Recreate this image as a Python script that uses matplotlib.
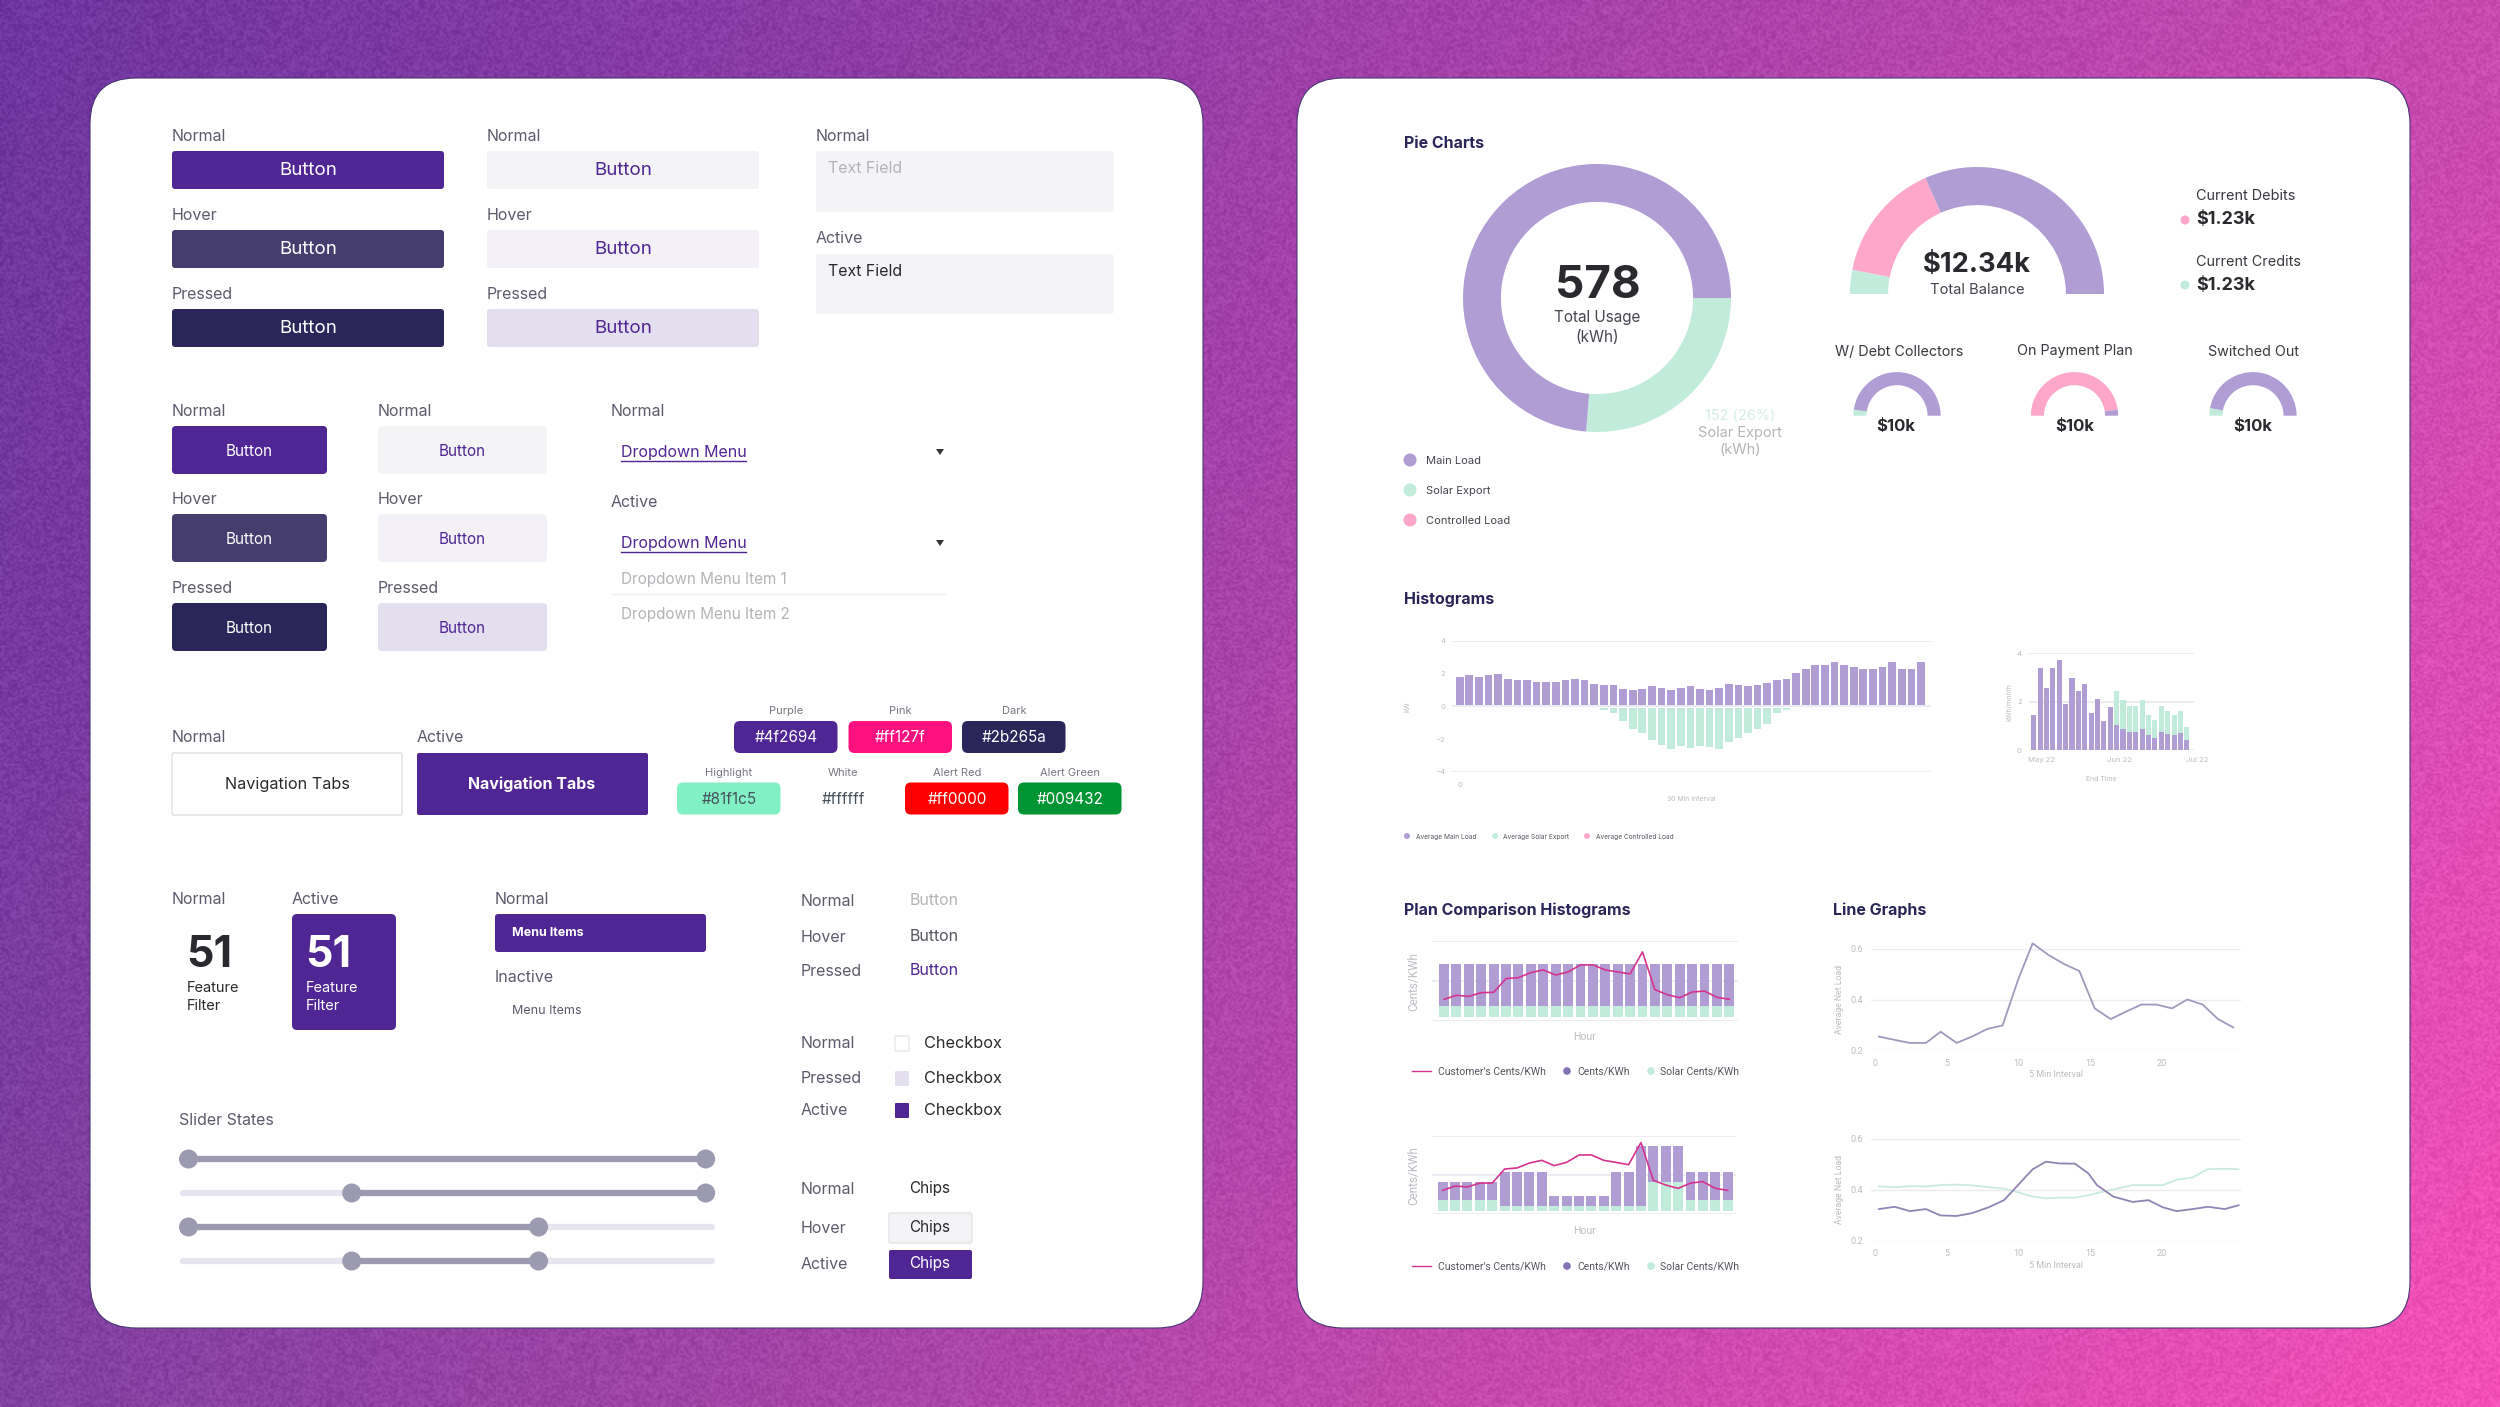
import numpy as np
import matplotlib
matplotlib.use('Agg')
from matplotlib import pyplot as plt
from matplotlib.patches import FancyBboxPatch, Circle, Polygon

# chart values ---------------------------------------------------------
usage_vals = [152, 426]                 # solar export, main load (kWh)
balance_vals = [11, 55, 114]            # credits, debits, rest, as degrees of the half ring
mini_debt = [8, 172]
mini_plan = [172, 8]
mini_out = [10, 170]

hist_load = [1.75, 1.88, 1.75, 1.86, 1.94, 1.63, 1.53, 1.53, 1.45, 1.41, 1.45, 1.53, 1.59, 1.53, 1.33, 1.22, 1.22,
             0.98, 0.92, 0.98, 1.16, 1.06, 0.92, 1.06, 1.16, 0.98, 0.92, 1.06, 1.33, 1.22, 1.16, 1.22, 1.39, 1.57,
             1.63, 2.0, 2.22, 2.45, 2.45, 2.63, 2.45, 2.35, 2.22, 2.22, 2.35, 2.63, 2.22, 2.22, 2.63]
hist_solar = [0] * 15 + [-0.14, -0.35, -0.82, -1.31, -1.53, -1.98, -2.29, -2.53, -2.35, -2.45, -2.35, -2.39, -2.53,
                         -2.08, -1.86, -1.53, -1.29, -0.98, -0.35, -0.14] + [0] * 14

month_load = [1.45, 3.37, 2.58, 3.37, 3.71, 1.90, 2.99, 2.44, 2.74, 1.52, 2.10, 1.21, 1.79, 1.04, 0.89, 0.77, 0.77,
              0.88, 0.63, 0.52, 0.77, 0.68, 0.63, 0.70, 0.42]
month_solar = [0] * 13 + [1.40, 1.18, 1.05, 1.05, 1.19, 0.82, 0.73, 1.05, 0.94, 0.82, 0.92, 0.55]
month_ticks = [1.3, 13.5, 25.7]
month_labels = ['May 22', 'Jun 22', 'Jul 22']

plan1_solar = [8.3] * 24
plan1_cents = [31.4] * 24
plan1_line = [16.1, 19.1, 18.3, 21.1, 21.4, 31.7, 32.4, 36.2, 38.2, 34.4, 36.7, 42, 42, 38.2, 36.7, 35.2, 51.8,
              23.4, 19.6, 17.3, 21.6, 22.3, 17.6, 16.1]
plan2_solar = [8.7] * 5 + [3.9] * 12 + [22.1] * 3 + [8.7] * 4
plan2_cents = [13.4] * 5 + [26.1] * 4 + [7.9] * 5 + [26.1] * 2 + [45.8] + [27.6] * 3 + [21.3] * 4
plan2_line = [18.2, 21.5, 20.8, 23.8, 23.8, 34.6, 35.4, 39.2, 41.3, 37.2, 39.7, 45.4, 45.4, 41.3, 39.7, 37.9, 54.9,
              25.9, 22.3, 19.7, 23.8, 24.9, 19.7, 18.2]

net_x = [0.26, 1.35, 2.42, 3.54, 4.57, 5.69, 6.76, 7.83, 8.9, 9.98, 11, 12.12, 13.19, 14.27, 15.34, 16.46, 17.53,
         18.6, 19.67, 20.75, 21.82, 22.89, 23.96, 25.03]
net_load = [.254, .241, .229, .229, .273, .229, .254, .284, .298, .477, .621, .575, .54, .512, .365, .323, .352,
            .38, .38, .365, .40, .38, .323, .29]
net2_x = [.26, 1.35, 2.42, 3.54, 4.57, 5.69, 6.76, 7.93, 9.0, 9.98, 11, 11.93, 12.86, 13.96, 14.9, 15.5, 16.64, 18,
          19.1, 20.1, 21.07, 22.19, 23.26, 24.43, 25.4]
net2_main = [.324, .333, .316, .324, .299, .297, .308, .331, .359, .418, .480, .510, .503, .502, .464, .418, .373,
             .352, .359, .331, .316, .324, .333, .324, .339]
net2_solar = [.413, .410, .414, .413, .418, .420, .417, .41, .404, .39, .373, .366, .369, .369, .378, .387, .401,
              .418, .418, .418, .439, .448, .481, .482, .480]

# colours --------------------------------------------------------------
PURPLE = '#4f2694'
HOVER = '#453d6e'
DARK = '#2b265a'
C_MAIN = '#af9dd4'
C_SOLAR = '#c1ecdb'
C_CTRL = '#ffa6cb'
GRID = '#ecebf1'
TICK = '#bdbdc3'
LABEL = '#5b5b6b'
INK = '#2a2a2e'
L1 = '#f4f4f6'
L2 = '#f3f1f7'
L3 = '#e4dfee'

W, H = 2500, 1407
plt.rcParams['font.family'] = ['Inter', 'DejaVu Sans']
fig = plt.figure(figsize=(W / 100, H / 100), dpi=100)

# page in pixel coordinates, same numbers as the screenshot
page = fig.add_axes([0, 0, 1, 1], zorder=0)
page.set_xlim(0, W)
page.set_ylim(H, 0)
page.axis('off')

# background gradient, with a fixed speckle for the paper grain
tl, tr = np.array([0x6e, 0x35, 0xa0]), np.array([0xc8, 0x4a, 0xb0])
bl, br = np.array([0x80, 0x40, 0xa0]), np.array([0xf5, 0x50, 0xb8])
gx, gy = np.meshgrid(np.arange(1250), np.arange(704))
u = (gx / 1249.0)[:, :, None]
v = (gy / 703.0)[:, :, None]
grain = np.sin(gx * 12.9898 + gy * 78.233) * 43758.5453
grain = (grain - np.floor(grain) - 0.5)[:, :, None] * 26
grad = (tl * (1 - u) + tr * u) * (1 - v) + (bl * (1 - u) + br * u) * v + grain
page.imshow(np.clip(grad, 0, 255) / 255, extent=(0, W, H, 0), aspect='auto', interpolation='bilinear', zorder=0)


def box(x0, y0, x1, y1, color, r=3, ec='none', lw=0, z=1):
    p = FancyBboxPatch((x0 + r, y0 + r), x1 - x0 - 2 * r, y1 - y0 - 2 * r,
                       boxstyle='round,pad=%f,rounding_size=%f' % (r, r),
                       fc=color, ec=ec, lw=lw, zorder=z)
    page.add_patch(p)


def T(x, y, s, size=11.5, color=LABEL, ha='left', weight='normal', fam=None, rot=0):
    kw = {}
    if fam:
        kw['family'] = fam
    page.text(x, y + 1.5, s, fontsize=size, color=color, ha=ha, va='center', weight=weight, rotation=rot, zorder=5, **kw)


def dot(x, y, r, color):
    page.add_patch(Circle((x, y), r, fc=color, ec='none', zorder=4))


# cards
box(90, 78, 1203, 1328, 'white', r=46, ec='#4a3672', lw=0.8)
box(1297, 78, 2410, 1328, 'white', r=46, ec='#4a3672', lw=0.8)

# wide buttons ---------------------------------------------------------
for lab, y, c_dark, c_light in [('Normal', 135, PURPLE, L1), ('Hover', 214, HOVER, L2), ('Pressed', 293, DARK, L3)]:
    T(172, y, lab)
    T(487, y, lab)
    box(172, y + 16, 444, y + 54, c_dark)
    box(487, y + 16, 759, y + 54, c_light)
    T(308, y + 34, 'Button', 13.5, 'white', 'center')
    T(623, y + 34, 'Button', 13.5, PURPLE, 'center')

T(816, 135, 'Normal')
box(816, 151, 1114, 212, L1)
T(828, 167, 'Text Field', 11.5, '#b4b4b8')
T(816, 237, 'Active')
box(816, 254, 1114, 314, L1)
T(828, 270, 'Text Field', 11.5, INK)

# small buttons --------------------------------------------------------
for lab, y, c_dark, c_light in [('Normal', 410, PURPLE, L1), ('Hover', 498, HOVER, L2), ('Pressed', 587, DARK, L3)]:
    T(172, y, lab)
    T(378, y, lab)
    box(172, y + 16, 327, y + 64, c_dark, r=4)
    box(378, y + 16, 547, y + 64, c_light, r=4)
    T(249.5, y + 40, 'Button', 11, 'white', 'center')
    T(462.5, y + 40, 'Button', 11, PURPLE, 'center')

# dropdowns
T(611, 410, 'Normal')
T(611, 501, 'Active')
for y in (452, 543):
    T(621, y - 1, 'Dropdown Menu', 11.5, PURPLE)
    page.plot([621, 746], [y + 9, y + 9], color=PURPLE, lw=1, zorder=5)
    page.add_patch(Polygon([[936, y - 3], [944, y - 3], [940, y + 3]], fc='#333338', ec='none', zorder=5))
T(621, 578, 'Dropdown Menu Item 1', 11, '#b4b4b8')
page.plot([612, 945], [594, 594], color='#eeeef2', lw=1, zorder=2)
T(621, 613, 'Dropdown Menu Item 2', 11, '#b4b4b8')

# tabs
T(172, 736, 'Normal')
T(417, 736, 'Active')
box(172, 753, 402, 815, 'white', r=2, ec='#e6e6ea', lw=1.2)
box(417, 753, 648, 815, PURPLE, r=2)
T(287, 783, 'Navigation Tabs', 11.7, INK, 'center')
T(532, 783, 'Navigation Tabs', 11.5, 'white', 'center', 'bold')

# colour swatches
for lab, code, x0, y0, col in [('Purple', '#4f2694', 734, 721, '#4f2694'), ('Pink', '#ff127f', 848.5, 721, '#ff127f'),
                               ('Dark', '#2b265a', 962, 721, '#2b265a'), ('Highlight', '#81f1c5', 677, 782.5, '#81f1c5'),
                               ('White', '#ffffff', 791, 782.5, None), ('Alert Red', '#ff0000', 905, 782.5, '#ff0000'),
                               ('Alert Green', '#009432', 1018, 782.5, '#009432')]:
    if col:
        box(x0, y0, x0 + 103.5, y0 + 32, col, r=6)
    T(x0 + 52, y0 - 11, lab, 8, '#777780', 'center')
    txt = 'white' if col not in ('#81f1c5', None) else '#45505a'
    T(x0 + 52, y0 + 15, code, 11, txt, 'center')

# feature filter
T(172, 898, 'Normal')
T(292, 898, 'Active')
box(292, 914, 396, 1030, PURPLE, r=5)
T(186, 954, '51', 31, INK, 'left', 'bold')
T(305, 954, '51', 31, 'white', 'left', 'bold')
for x, c in ((187, INK), (306, 'white')):
    T(x, 987, 'Feature', 10.5, c)
    T(x, 1004, 'Filter', 10.5, c)

# menu
T(495, 898, 'Normal')
box(495, 914, 706, 952, PURPLE, r=3)
T(512, 931, 'Menu Items', 9, 'white', 'left', 'bold')
T(495, 976, 'Inactive')
T(512, 1010, 'Menu Items', 9, LABEL)

# text buttons
for lab, y, c in [('Normal', 900, '#b4b4b8'), ('Hover', 936, '#55555f'), ('Pressed', 970, PURPLE)]:
    T(801, y, lab)
    T(910, y - 1, 'Button', 11.5, c)

# checkboxes
T(801, 1042, 'Normal')
T(801, 1077, 'Pressed')
T(801, 1109, 'Active')
box(895, 1036, 909, 1051, 'white', r=1, ec='#e6e6ea', lw=1)
box(895, 1071, 909, 1086, L3, r=1)
box(895, 1103, 909, 1118, PURPLE, r=1)
for y in (1042, 1077, 1109):
    T(924, y, 'Checkbox', 11.7, INK)

# sliders
T(179, 1119, 'Slider States')
for y, a, b in [(1159, 188.5, 705.7), (1193, 351.7, 705.7), (1227, 188.5, 538.6), (1261, 351.7, 538.6)]:
    page.plot([183, 712], [y, y], color='#e6e4ee', lw=4.5, solid_capstyle='round', zorder=2)
    page.plot([a, b], [y, y], color='#9c9ab0', lw=4.5, solid_capstyle='butt', zorder=3)
    dot(a, y, 9.5, '#9c9ab0')
    dot(b, y, 9.5, '#9c9ab0')

# chips
T(801, 1188, 'Normal')
T(801, 1227, 'Hover')
T(801, 1263, 'Active')
box(889, 1213, 972, 1243, L1, r=2, ec='#e4e4e8', lw=1)
box(889, 1250, 972, 1279, PURPLE, r=2)
T(930, 1187, 'Chips', 11, INK, 'center')
T(930, 1226, 'Chips', 11, INK, 'center')
T(930, 1262, 'Chips', 11, 'white', 'center')


# right card ------------------------------------------------------------
def make_axes(x0, y0, x1, y1):
    a = fig.add_axes([x0 / W, 1 - y1 / H, (x1 - x0) / W, (y1 - y0) / H], zorder=2)
    a.patch.set_alpha(0)
    for s in a.spines.values():
        s.set_visible(False)
    a.tick_params(length=0, labelsize=6.5, labelcolor=TICK)
    return a


def ring(cx, cy, r, vals, cols, start, width):
    a = make_axes(cx - r, cy - r, cx + r, cy + r)
    a.pie(vals, colors=cols, startangle=start, counterclock=False, radius=1, wedgeprops={'width': width})
    a.set_xlim(-1, 1)
    a.set_ylim(-1, 1)
    return a


T(1404, 142.5, 'Pie Charts', 11.5, DARK, weight='bold')
ring(1597, 298, 134, usage_vals, [C_SOLAR, C_MAIN], 0, 0.283)
T(1597.5, 284, '578', 33, INK, 'center', 'bold')
T(1597.5, 316, 'Total Usage', 11, '#45454f', 'center')
T(1597.5, 336, '(kWh)', 11, '#45454f', 'center')
T(1740, 414, '152 (26%)', 10.5, '#d5efe3', 'center')
T(1740, 431, 'Solar Export', 10.5, '#b5b5ba', 'center')
T(1740, 449, '(kWh)', 10.5, '#b5b5ba', 'center')
for y, c, s in [(459, C_MAIN, 'Main Load'), (489, C_SOLAR, 'Solar Export'), (519, C_CTRL, 'Controlled Load')]:
    dot(1410, y + 1, 6.5, c)
    T(1426, y, s, 8, '#45454f')

ring(1977, 294, 127, balance_vals + [180], [C_SOLAR, C_CTRL, C_MAIN, 'none'], 180, 0.3)
T(1977, 263, '$12.34k', 19.7, INK, 'center', 'bold')
T(1977, 288.5, 'Total Balance', 10.6, '#45454f', 'center')
T(2196, 194.5, 'Current Debits', 10.4, '#38383f')
T(2196, 218, '$1.23k', 13, INK, weight='bold')
dot(2185, 220, 4.5, C_CTRL)
T(2196, 260, 'Current Credits', 10.4, '#38383f')
T(2196, 284, '$1.23k', 13, INK, weight='bold')
dot(2185, 285, 4.5, C_SOLAR)

for cx, lab, vals, cols in [(1897, 'W/ Debt Collectors', mini_debt, [C_SOLAR, C_MAIN]),
                            (2074.5, 'On Payment Plan', mini_plan, [C_CTRL, C_MAIN]),
                            (2253, 'Switched Out', mini_out, [C_SOLAR, C_MAIN])]:
    ring(cx, 415.7, 43.6, vals + [180], cols + ['none'], 180, 0.3)
    T(cx + 2 if cx < 1900 else cx, 350, lab, 10.3, '#38383f', 'center')
    T(cx - 1 if cx < 1900 else cx, 425, '$10k', 12, INK, 'center', 'bold')

# histograms
T(1404, 597.5, 'Histograms', 11.5, DARK, weight='bold')
ax = make_axes(1452, 640.7, 1931, 772)
xs = np.arange(len(hist_load))
ax.hlines([4, 0, -4], -0.8, 49.04, color=GRID, lw=1.5, zorder=1)
ax.bar(xs, hist_load, width=0.8, bottom=0.06, color=C_MAIN, zorder=2)
ax.bar(xs, hist_solar, width=0.8, bottom=-0.08, color=C_SOLAR, zorder=2)
ax.set_xlim(-0.8, 49.04)
ax.set_ylim(-4, 4)
ax.set_yticks([4, 2, 0, -2, -4])
ax.set_xticks([0])
ax.tick_params(labelsize=5.5, pad=5)
ax.tick_params(axis='x', pad=7)
ax.set_xlabel('30 Min Interval', fontsize=5, color=TICK, labelpad=6)
ax.set_ylabel('kW', fontsize=5, color=TICK, labelpad=18)

ax = make_axes(2028.6, 653, 2202.8, 750.3)
xs = np.arange(len(month_load))
ax.hlines([4, 2, 0], -0.8, 25.1, color=GRID, lw=1.5, zorder=1)
ax.bar(xs, month_load, width=0.8, color=C_MAIN, zorder=2)
ax.bar(xs, month_solar, width=0.8, bottom=month_load, color=C_SOLAR, zorder=2)
ax.set_xlim(-0.8, 26.5)
ax.set_ylim(0, 4)
ax.set_yticks([4, 2, 0])
ax.set_xticks(month_ticks, month_labels)
ax.tick_params(labelsize=5.5, pad=5)
ax.set_xlabel('End Time', fontsize=5, color=TICK, labelpad=4)
ax.set_ylabel('kWh/month', fontsize=5, color=TICK, labelpad=3)
ax.xaxis.set_label_coords(0.42, -0.26)

for x, tx, c, s in [(1407, 1416, C_MAIN, 'Average Main Load'), (1495, 1503, C_SOLAR, 'Average Solar Export'),
                    (1587, 1595.6, C_CTRL, 'Average Controlled Load')]:
    dot(x, 836, 3, c)
    T(tx, 835, s, 4.7, '#55555f')


# plan comparison
def plan(x0, x1, y0, y1, xlim, solar, cents, line, bottom, hour_y, leg_y):
    a = make_axes(x0, y0, x1, y1)
    xs = np.arange(24)
    a.hlines([0, 30, 60], xlim[0], xlim[1], color=GRID, lw=1.3, zorder=1)
    a.bar(xs, solar, width=0.8, bottom=bottom, color=C_SOLAR, zorder=2)
    a.bar(xs, cents, width=0.8, bottom=np.array(solar) + bottom, color=C_MAIN, zorder=2)
    a.plot(xs, line, color='#d6338e', lw=1.2, zorder=3)
    a.set_xlim(xlim)
    a.set_ylim(0, 60)
    a.set_xticks([])
    a.set_yticks([])
    T(1414, (y0 + y1) / 2 - 1, 'Cents/KWh', 8.5, TICK, 'center', rot=90, fam='Roboto')
    T(1585, hour_y - 1, 'Hour', 7.5, TICK, 'center', fam='Roboto')
    page.plot([1412, 1431], [leg_y, leg_y], color='#d6338e', lw=1, zorder=5)
    T(1438, leg_y - 1, "Customer's Cents/KWh", 7.5, '#55555f', fam='Roboto')
    dot(1567, leg_y, 3.8, '#8473b3')
    T(1577, leg_y - 1, 'Cents/KWh', 7.5, '#55555f', fam='Roboto')
    dot(1651, leg_y, 3.8, C_SOLAR)
    T(1660, leg_y - 1, 'Solar Cents/KWh', 7.5, '#55555f', fam='Roboto')


T(1404, 908.5, 'Plan Comparison Histograms', 11.5, DARK, weight='bold')
plan(1432, 1738, 941, 1020.7, (-0.97, 23.7), plan1_solar, plan1_cents, plan1_line, 3, 1036, 1071)
plan(1432, 1736, 1136, 1214, (-0.86, 23.67), plan2_solar, plan2_cents, plan2_line, 2.3, 1231, 1266)

# line graphs
T(1833, 908.5, 'Line Graphs', 11.5, DARK, weight='bold')


def lines(y0, y1):
    a = make_axes(1871, y0, 2240.7, y1)
    a.set_xlim(-0.3, 25.55)
    a.set_ylim(0.2, 0.6)
    a.set_yticks([0.2, 0.4, 0.6])
    a.set_xticks([0, 5, 10, 15, 20])
    a.grid(axis='y', color=GRID, lw=1)
    a.set_axisbelow(True)
    a.tick_params(labelsize=6.5, pad=6)
    for lab in a.get_xticklabels() + a.get_yticklabels():
        lab.set_family('Roboto')
    a.set_xlabel('5 Min Interval', fontsize=6.5, color=TICK, labelpad=2, family='Roboto')
    a.set_ylabel('Average Net Load', fontsize=6.3, color=TICK, labelpad=4, family='Roboto')
    return a


ax = lines(948.7, 1050.3)
ax.plot(net_x, net_load, color='#a298bd', lw=1.3, clip_on=False)
ax = lines(1138.7, 1240.7)
ax.plot(net2_x, net2_solar, color='#c8ebde', lw=1.3, clip_on=False)
ax.plot(net2_x, net2_main, color='#9184b5', lw=1.3, clip_on=False)

fig.savefig('out.png', dpi=100)
